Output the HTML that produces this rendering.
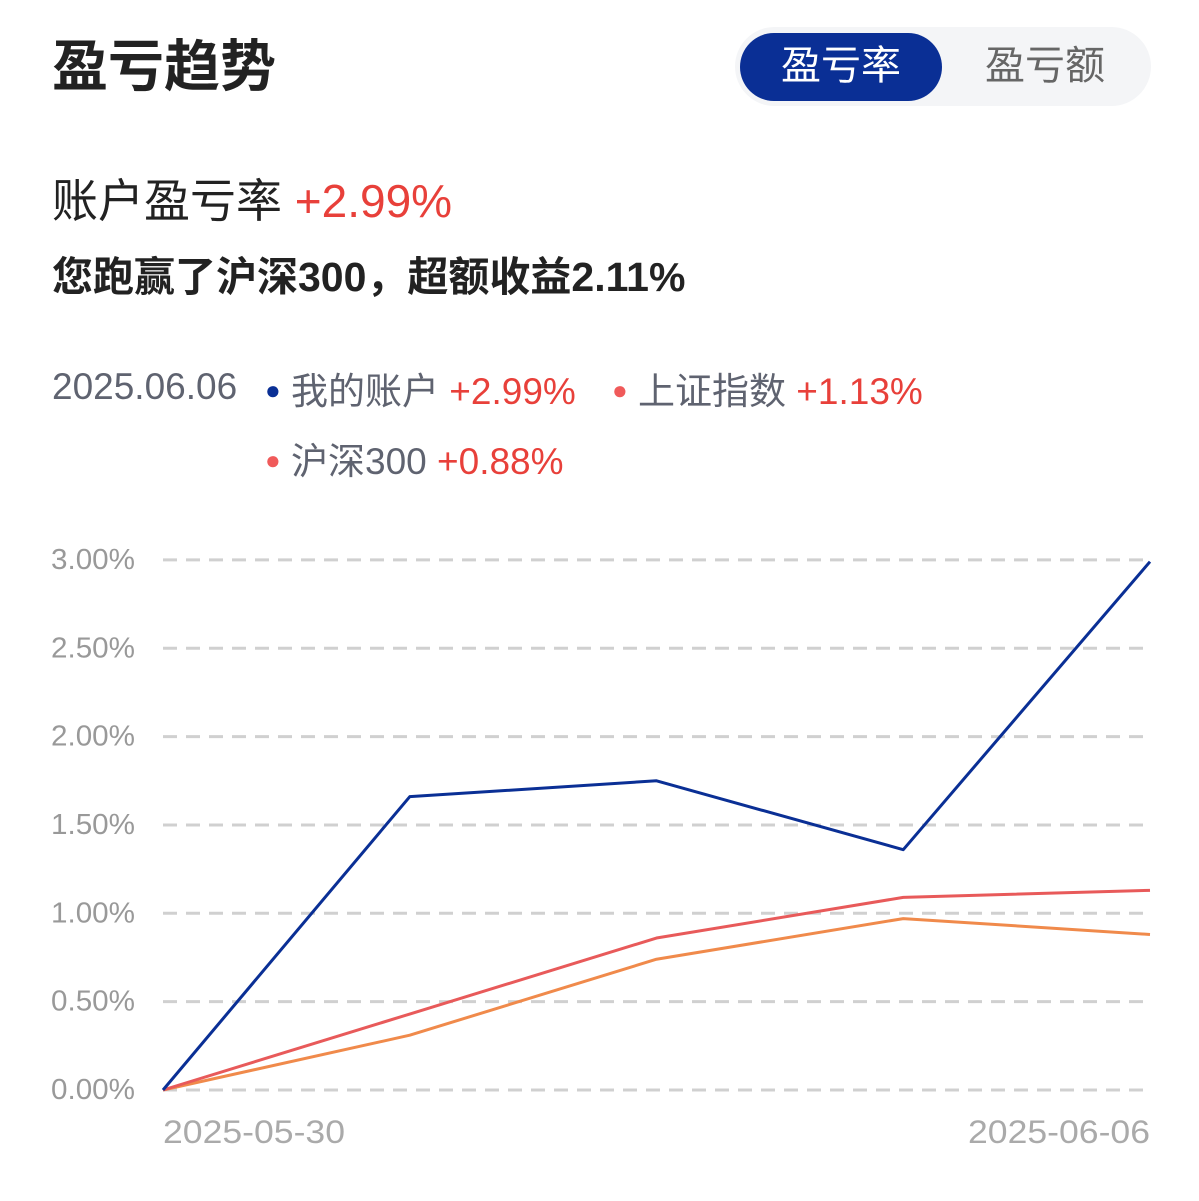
<!DOCTYPE html>
<html><head><meta charset="utf-8"><style>
body{margin:0;width:1199px;height:1201px;background:#fff;font-family:"Liberation Sans","Noto Sans CJK SC",sans-serif;position:relative;overflow:hidden}
.a{position:absolute;white-space:nowrap}
</style></head><body>
<div class="a" style="left:52px;top:22px;font-size:56px;font-weight:bold;color:#222">盈亏趋势</div>
<div class="a" style="left:735px;top:27px;width:416px;height:79px;border-radius:40px;background:#f4f5f7"></div>
<div class="a" style="left:740px;top:33px;width:202px;height:68px;border-radius:34px;background:#0a2f95;color:#fff;font-size:40px;line-height:66px;text-align:center">盈亏率</div>
<div class="a" style="left:945px;top:33px;width:200px;height:68px;color:#666;font-size:40px;line-height:66px;text-align:center">盈亏额</div>
<div class="a" style="left:52px;top:165px;font-size:46px;color:#222">账户盈亏率 <span style="color:#e8403a">+2.99%</span></div>
<div class="a" style="left:52px;top:243px;font-size:41px;font-weight:bold;color:#222">您跑赢了沪深300，超额收益2.11%</div>
<div class="a" style="left:52px;top:366px;font-size:37px;color:#5f6370">2025.06.06</div>
<div class="a" style="left:265px;top:361px;font-size:37px;color:#5f6370"><span style="color:#0a2f95;font-size:26px;vertical-align:5px">●</span> 我的账户 <span style="color:#e8403a">+2.99%</span></div>
<div class="a" style="left:612px;top:361px;font-size:37px;color:#5f6370"><span style="color:#f05a5a;font-size:26px;vertical-align:5px">●</span> 上证指数 <span style="color:#e8403a">+1.13%</span></div>
<div class="a" style="left:265px;top:431px;font-size:37px;color:#5f6370"><span style="color:#f05a5a;font-size:26px;vertical-align:5px">●</span> 沪深300 <span style="color:#e8403a">+0.88%</span></div>
<svg class="a" style="left:0;top:0" width="1199" height="1201"></svg>
<script>
const ticks=[0,0.5,1,1.5,2,2.5,3];
const dates=["2025-05-30","","","","2025-06-06"];
const account=[0,1.66,1.75,1.36,2.99];
const shIndex=[0,0.43,0.86,1.09,1.13];
const hs300=[0,0.31,0.74,0.97,0.88];
const svg=document.querySelector('svg');const NS='http://www.w3.org/2000/svg';
const y=v=>1090-v*176.7, x=i=>163+i*(1150-163)/(dates.length-1);
function mk(t,a){const e=document.createElementNS(NS,t);for(const k in a)e.setAttribute(k,a[k]);svg.appendChild(e);return e;}
ticks.forEach(t=>{
const l=mk('line',{x1:163,x2:1150,y1:y(t),y2:y(t),stroke:'#d0d0d0','stroke-width':3,'stroke-dasharray':'14 9'});


const tx=mk('text',{x:51,y:y(t)+9,'font-size':29,fill:'#999',textLength:84,lengthAdjust:'spacingAndGlyphs'});tx.textContent=t.toFixed(2)+'%';


});
dates.forEach((d,i)=>{if(!d)return;const tx=mk('text',{x:i==0?x(i):x(i)-182,y:1143,'font-size':32,fill:'#aaa',textLength:182,lengthAdjust:'spacingAndGlyphs'});tx.textContent=d;

});
[[hs300,'#f08a4b','hs300-line'],[shIndex,'#e85a5a','sh-index-line'],[account,'#0a2f95','account-line']].forEach(([s,c,n])=>{
const p=mk('polyline',{points:s.map((v,i)=>x(i)+','+y(v)).join(' '),fill:'none',stroke:c,'stroke-width':3,'stroke-linejoin':'round'});


});
</script>
</body></html>
